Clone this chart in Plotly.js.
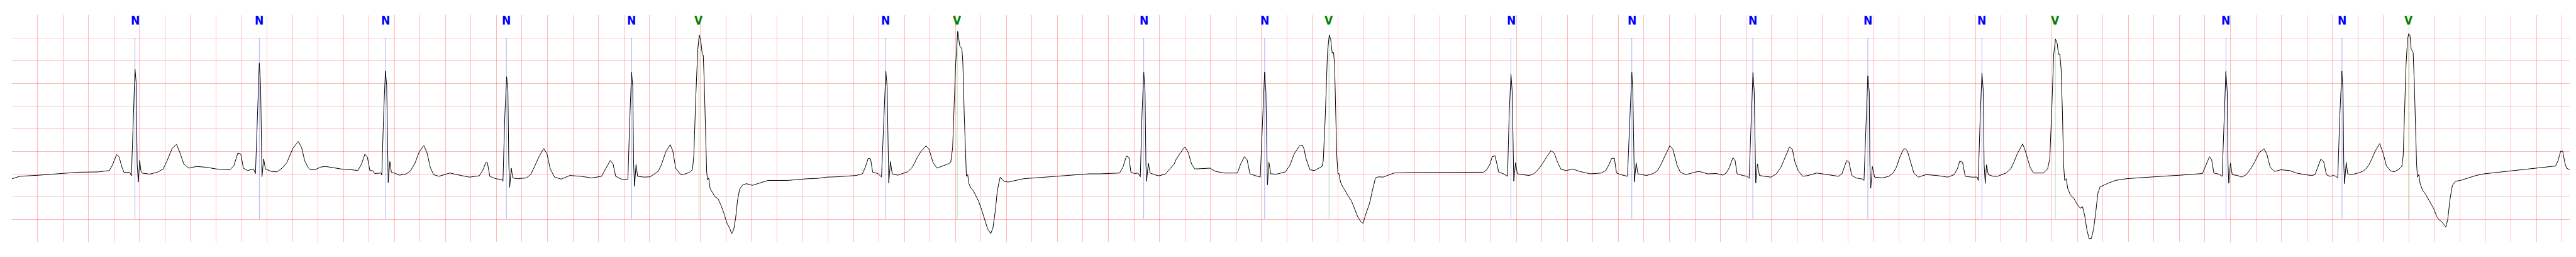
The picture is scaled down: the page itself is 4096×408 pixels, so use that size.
<!DOCTYPE html>
<html><head><meta charset="utf-8">
<script src="https://cdn.plot.ly/plotly-3.0.1.min.js"></script>
<style>html,body{margin:0;padding:0;background:#fff;overflow:hidden}#chart{width:4096px;height:408px}</style>
</head><body><div id="chart"></div>
<script>
// ECG signal: time (s) and amplitude (mV)
const ecgTime = [
0.000,0.062,0.216,0.370,0.524,0.678,0.763,0.786,0.821,0.840,0.863,0.878,0.925,0.937,0.952,0.965,0.974,0.982,0.991,1.002,1.011,1.020,1.079,1.140,1.186,1.217,1.256,1.291,1.317,1.348,1.387,1.448,1.525,1.602,1.710,1.741,1.772,1.795,1.815,1.849,1.895,1.910,1.926,1.940,1.950,1.957,1.961,1.974,1.988,2.034,2.080,2.126,2.157,2.203,2.246,2.272,2.296,2.323,
2.340,2.374,2.425,2.460,2.528,2.580,2.665,2.713,2.742,2.768,2.788,2.807,2.828,2.845,2.896,2.901,2.915,2.929,2.939,2.946,2.951,2.964,2.976,2.999,3.041,3.093,3.127,3.161,3.195,3.230,3.255,3.281,3.307,3.349,3.435,3.521,3.589,3.666,3.692,3.717,3.729,3.748,3.794,3.846,3.851,3.866,3.880,3.890,3.897,3.904,3.916,3.928,3.965,4.034,4.068,4.102,4.137,4.171,4.197,4.222,4.256,4.308,4.376,4.462,4.547,4.624,4.650,4.693,4.715,4.735,4.787,4.831,4.847,4.860,4.869,4.876,4.883,4.895,4.907,4.958,5.006,
5.037,5.068,5.091,5.129,5.163,5.183,5.206,5.245,5.283,5.314,5.337,5.348,5.363,5.379,5.391,5.403,5.414,5.422,5.429,5.440,5.449,5.456,5.465,5.476,5.491,5.514,5.537,5.560,5.584,5.607,5.630,5.645,5.661,5.676,5.691,5.707,5.730,5.761,5.807,5.869,5.930,6.007,6.084,6.161,6.238,6.315,6.392,6.469,6.546,6.623,6.670,6.693,6.716,6.734,6.751,6.793,6.820,6.839,6.854,6.864,6.873,6.877,6.890,6.904,6.947,6.993,7.024,7.062,7.101,7.132,7.170,7.193,7.224,7.255,7.301,7.347,7.363,7.378,7.401,7.418,
7.434,7.441,7.451,7.458,7.469,7.477,7.486,7.496,7.506,7.520,7.537,7.558,7.583,7.606,7.626,7.652,7.677,7.694,7.712,7.729,7.751,7.780,7.814,7.866,7.934,8.020,8.105,8.191,8.276,8.362,8.447,8.533,8.619,8.687,8.713,8.742,8.761,8.776,8.807,8.832,8.850,8.863,8.877,8.887,8.894,8.899,8.913,8.927,8.961,8.995,9.046,9.081,9.115,9.132,9.166,9.200,9.226,9.252,9.277,9.337,9.397,9.440,9.508,9.577,9.611,9.637,9.666,9.688,9.710,9.748,9.791,9.811,9.825,9.835,9.842,9.847,9.859,9.873,9.919,9.987,10.022,10.056,10.099,
10.121,10.135,10.147,10.164,10.181,10.215,10.241,10.275,10.285,10.301,10.318,10.332,10.343,10.355,10.366,10.374,10.383,10.391,10.400,10.408,10.420,10.438,10.455,10.480,10.506,10.532,10.557,10.583,10.597,10.617,10.648,10.674,10.694,10.720,10.754,10.788,10.840,10.959,11.131,11.302,11.473,11.541,11.567,11.593,11.610,11.632,11.647,11.661,11.695,11.730,11.743,11.757,11.767,11.774,11.779,11.793,11.807,11.849,11.901,11.935,11.969,12.003,12.038,12.072,12.097,12.123,12.149,12.191,12.243,12.294,12.380,12.465,12.500,12.525,12.547,12.568,12.585,12.619,12.671,12.691,12.705,12.713,12.720,12.725,12.739,12.753,12.787,
12.821,12.873,12.907,12.932,12.958,12.984,13.003,13.027,13.044,13.061,13.086,13.129,13.198,13.232,13.300,13.369,13.420,13.446,13.471,13.497,13.514,13.531,13.574,13.608,13.625,13.641,13.655,13.665,13.672,13.677,13.690,13.706,13.745,13.797,13.839,13.874,13.899,13.925,13.942,13.964,13.985,14.010,14.045,14.088,14.156,14.241,14.327,14.353,14.370,14.390,14.409,14.430,14.464,14.515,14.526,14.543,14.556,14.567,14.572,14.579,14.592,14.609,14.669,14.721,14.755,14.780,14.806,14.832,14.849,14.866,14.892,14.917,14.952,15.012,15.097,15.183,15.234,15.260,15.277,15.299,15.320,15.371,15.414,15.422,15.438,15.451,15.462,15.468,
15.477,15.487,15.501,15.539,15.573,15.607,15.641,15.676,15.701,15.727,15.752,15.770,15.787,15.812,15.829,15.855,15.898,15.932,15.966,15.983,15.997,16.014,16.028,16.040,16.052,16.062,16.072,16.083,16.091,16.100,16.112,16.124,16.146,16.172,16.197,16.223,16.240,16.257,16.274,16.291,16.309,16.326,16.343,16.360,16.377,16.403,16.446,16.497,16.582,16.668,16.754,16.839,16.925,17.010,17.096,17.181,17.195,17.216,17.236,17.253,17.270,17.310,17.335,17.352,17.364,17.375,17.381,17.387,17.400,17.414,17.455,17.489,17.524,17.558,17.592,17.626,17.664,17.686,17.712,17.746,17.797,17.866,17.917,17.986,18.037,18.063,18.080,18.109,18.131,18.153,
18.178,18.209,18.227,18.242,18.258,18.274,18.283,18.289,18.295,18.308,18.320,18.351,18.400,18.437,18.462,18.487,18.511,18.536,18.571,18.598,18.623,18.653,18.684,18.721,18.744,18.755,18.765,18.777,18.789,18.798,18.808,18.818,18.826,18.833,18.842,18.851,18.860,18.867,18.878,18.888,18.907,18.931,18.962,18.993,19.018,19.036,19.061,19.089,19.104,19.123,19.141,19.166,19.203,19.265,19.327,19.388,19.512,19.635,19.759,19.882,19.950,19.969,19.990,20.006,20.025,20.037,20.061
];
const ecgMv = [
-0.108,-0.054,-0.029,0.007,0.036,0.043,0.072,0.181,0.426,0.379,0.145,0.036,0.029,-0.043,1.30,2.305,2.02,0.217,-0.181,0.296,0.072,0.018,-0.007,0.036,0.108,0.289,0.560,0.650,0.470,0.217,0.126,0.163,0.145,0.108,0.090,0.181,0.459,0.434,0.126,0.072,0.108,0.007,1.30,2.440,1.99,0.217,-0.065,0.332,0.108,0.054,0.043,0.145,0.253,0.560,0.715,0.578,0.289,0.137,
0.090,0.090,0.152,0.163,0.126,0.108,0.090,0.072,0.217,0.434,0.368,0.072,0.072,0.007,0.018,-0.029,1.30,2.265,1.95,0.217,-0.191,0.271,0.036,0.018,-0.029,0.000,0.072,0.235,0.488,0.625,0.470,0.145,-0.018,-0.054,0.018,-0.036,-0.072,-0.043,0.072,0.253,0.246,-0.054,-0.108,-0.126,-0.163,1.30,2.142,1.81,0.217,-0.296,0.126,-0.090,-0.108,-0.090,-0.018,0.181,0.397,0.560,0.434,0.108,-0.072,-0.116,-0.036,-0.054,-0.090,-0.054,0.072,0.296,0.217,-0.054,-0.126,-0.119,1.30,2.240,1.92,0.217,-0.271,0.206,-0.054,-0.072,-0.065,
-0.007,0.054,0.181,0.488,0.643,0.506,0.126,-0.018,0.000,0.036,0.090,0.397,1.662,2.746,3.060,2.926,2.644,2.619,2.095,0.939,0.036,-0.137,-0.090,-0.325,-0.397,-0.506,-0.542,-0.686,-0.867,-1.084,-1.203,-1.318,-1.228,-0.975,-0.578,-0.343,-0.246,-0.217,-0.253,-0.199,-0.145,-0.145,-0.145,-0.126,-0.108,-0.101,-0.072,-0.065,-0.054,-0.036,0.000,0.145,0.343,0.332,0.036,0.007,-0.072,1.30,2.266,1.92,0.217,-0.199,0.271,0.000,-0.029,0.018,0.043,0.145,0.361,0.506,0.621,0.542,0.253,0.126,0.173,0.224,0.253,0.578,2.39,3.143,
2.818,2.800,2.746,2.457,1.30,0.578,-0.054,-0.018,-0.217,-0.307,-0.361,-0.470,-0.614,-0.795,-0.975,-1.210,-1.318,-1.192,-0.831,-0.361,-0.072,-0.163,-0.181,-0.145,-0.108,-0.090,-0.072,-0.054,-0.043,-0.018,0.000,0.000,0.007,0.018,0.145,0.397,0.361,0.036,0.007,0.018,-0.065,1.30,2.240,1.81,0.217,-0.163,0.235,0.018,-0.018,-0.043,-0.007,0.108,0.217,0.325,0.470,0.596,0.470,0.217,0.108,0.116,0.126,0.054,0.018,0.018,0.018,0.217,0.379,0.307,0.000,-0.036,-0.072,1.30,2.247,1.81,0.217,-0.242,0.253,0.000,-0.007,0.043,0.181,0.434,0.621,
0.632,0.542,0.361,0.217,0.090,0.072,0.108,0.163,0.289,1.30,2.673,3.064,2.963,2.666,2.673,2.384,1.30,0.397,0.000,0.007,-0.181,-0.289,-0.361,-0.488,-0.596,-0.795,-0.957,-1.066,-1.091,-0.903,-0.650,-0.325,-0.090,-0.065,-0.072,-0.036,0.018,0.029,0.029,0.029,0.036,0.036,0.090,0.217,0.379,0.397,0.217,0.036,0.007,-0.054,1.30,2.197,1.81,0.217,-0.163,0.246,0.000,-0.018,-0.036,0.000,0.090,0.217,0.379,0.513,0.452,0.253,0.101,0.072,0.108,0.054,0.000,0.018,0.072,0.199,0.343,0.343,0.018,-0.018,-0.054,1.30,2.240,1.81,0.217,-0.181,0.242,0.000,-0.018,
-0.036,0.007,0.072,0.199,0.361,0.524,0.621,0.542,0.361,0.181,0.036,-0.018,0.036,0.054,0.000,0.007,-0.029,0.018,0.145,0.354,0.307,0.000,-0.036,-0.054,-0.101,1.30,2.233,1.81,0.217,-0.199,0.217,-0.036,-0.054,-0.072,0.000,0.145,0.307,0.470,0.596,0.542,0.253,0.072,-0.054,-0.036,0.018,-0.018,-0.054,0.000,0.126,0.296,0.253,-0.036,-0.090,-0.116,-0.145,1.30,2.160,1.81,0.217,-0.318,0.163,-0.072,-0.090,-0.054,0.018,0.145,0.361,0.524,0.560,0.506,0.253,0.018,-0.072,-0.018,-0.036,-0.072,-0.018,0.126,0.282,0.253,-0.054,-0.072,-0.072,-0.145,1.30,2.222,1.81,0.217,
-0.210,0.199,-0.018,-0.054,-0.054,-0.018,0.018,0.108,0.253,0.434,0.560,0.661,0.542,0.289,0.145,0.018,0.018,0.018,0.108,0.325,1.30,2.637,2.969,2.890,2.637,2.637,2.312,1.30,0.217,-0.145,-0.108,-0.325,-0.470,-0.542,-0.668,-0.759,-0.723,-0.921,-1.228,-1.427,-1.427,-1.228,-0.867,-0.434,-0.289,-0.253,-0.199,-0.145,-0.108,-0.090,-0.072,-0.054,-0.043,-0.029,-0.007,0.007,0.108,0.253,0.379,0.307,0.018,-0.007,-0.054,1.30,2.257,1.81,0.217,-0.206,0.235,-0.018,-0.036,-0.072,-0.018,0.108,0.271,0.470,0.553,0.434,0.145,0.054,0.090,0.072,0.018,-0.018,-0.036,-0.018,0.108,0.325,0.271,-0.018,
-0.054,-0.036,-0.054,-0.090,1.30,2.266,1.81,0.217,-0.217,0.253,0.000,-0.018,0.018,0.054,0.108,0.199,0.343,0.506,0.668,0.452,0.181,0.072,0.043,0.101,0.163,0.397,1.30,2.384,2.962,3.089,3.053,2.746,2.710,2.673,2.023,0.939,0.217,-0.072,-0.018,-0.217,-0.361,-0.452,-0.596,-0.759,-0.939,-1.012,-1.066,-1.174,-1.012,-0.542,-0.253,-0.163,-0.145,-0.090,-0.036,0.000,0.036,0.072,0.108,0.145,0.173,0.289,0.499,0.499,0.217,0.126,0.090
];
// Beat annotations
const annTime = [0.965,1.940,2.929,3.878,4.861,5.388,6.853,7.414,8.877,9.825,10.330,11.757,12.705,13.654,14.556,15.451,16.026,17.365,18.275,18.798];
const annSymbol = ['N','N','N','N','N','V','N','V','N','N','V','N','N','N','N','N','V','N','N','V'];

const symColor = {N:'#0000ff', V:'#008000'};
const symLine = {N:'rgba(0,0,255,0.55)', V:'rgba(0,128,0,0.55)'};

const traces = [];
['N','V'].forEach(function(s){
  const xs=[], ys=[];
  annTime.forEach(function(t,i){ if(annSymbol[i]===s){ xs.push(t,t,null); ys.push(3.0,-1.0,null);} });
  traces.push({x:xs,y:ys,mode:'lines',type:'scatter',line:{color:symLine[s],width:0.6},hoverinfo:'skip'});
});
traces.push({x:ecgTime,y:ecgMv,mode:'lines',type:'scatter',line:{color:'#000000',width:1},hoverinfo:'skip'});

const xt=[]; for(let i=0;i<=100;i++) xt.push(Math.round(i*20)/100);
const yt=[]; for(let i=0;i<10;i++) yt.push(-1.5+i*0.5);

const annotations = annTime.map(function(t,i){
  return {x:t,y:3.39,xref:'x',yref:'y',text:annSymbol[i],showarrow:false,xanchor:'center',yanchor:'middle',
    font:{family:'DejaVu Sans Condensed, Liberation Sans Narrow, DejaVu Sans, sans-serif',size:19,color:symColor[annSymbol[i]],weight:'bold'}};
});

const gc='rgba(255,0,0,0.27)';
const layout = {
  width:4096,height:408,
  margin:{l:19,r:10,t:24,b:24,pad:0},
  paper_bgcolor:'#ffffff',plot_bgcolor:'#ffffff',
  showlegend:false,
  xaxis:{range:[0,20.061],tickmode:'array',tickvals:xt,showticklabels:false,ticks:'',showgrid:true,gridcolor:gc,gridwidth:1,zeroline:false,showline:false,fixedrange:true},
  yaxis:{range:[-1.5,3.5],tickmode:'array',tickvals:yt,showticklabels:false,ticks:'',showgrid:true,gridcolor:gc,gridwidth:1,zeroline:false,showline:false,fixedrange:true},
  annotations:annotations
};
Plotly.newPlot('chart',traces,layout,{staticPlot:true,displayModeBar:false});
</script>
</body></html>
